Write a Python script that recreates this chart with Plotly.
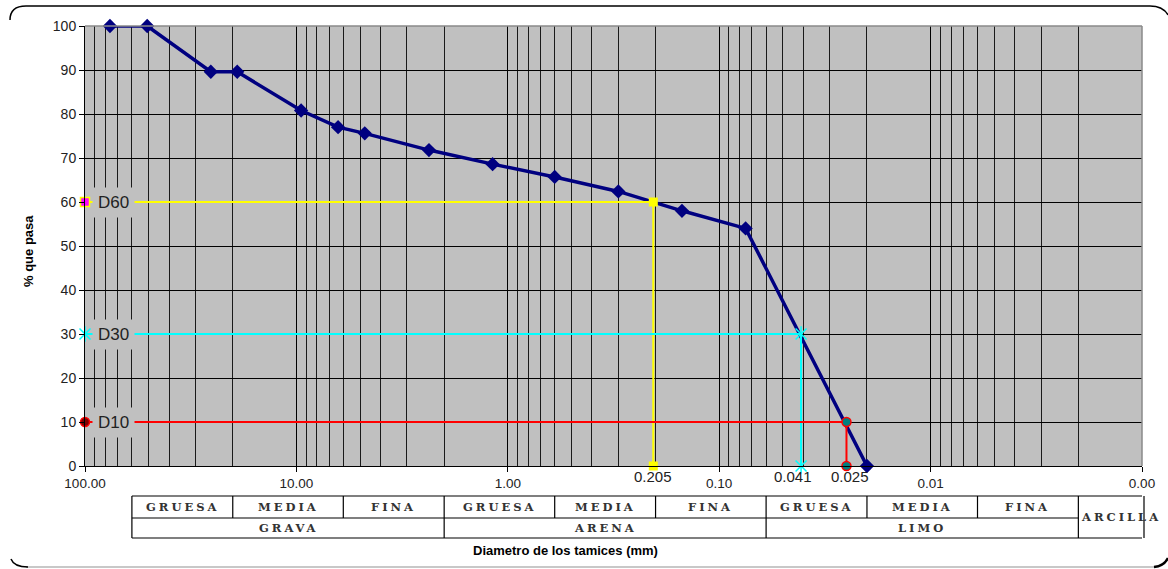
import numpy as np
import plotly.graph_objects as go

# ---------------- data ----------------
diametro = [76.2, 50.8, 25.4, 19.05, 9.5, 6.35, 4.75, 2.36, 1.18, 0.6, 0.3, 0.15, 0.075, 0.02]
pasa = [100, 100, 89.6, 89.6, 80.8, 77.0, 75.6, 71.8, 68.6, 65.7, 62.4, 58.0, 54.0, 0]

d_names = ["D60", "D30", "D10"]
d_pct = [60, 30, 10]
d_diam = [0.205, 0.041, 0.025]

x_max = 100
x_min = 0.001

# soil classification boundaries (mm)
sub_bounds = [60, 20, 6, 2, 0.6, 0.2, 0.06, 0.02, 0.006, 0.002]
sub_labels = ["GRUESA", "MEDIA", "FINA", "GRUESA", "MEDIA", "FINA", "GRUESA", "MEDIA", "FINA"]
main_bounds = [60, 2, 0.06, 0.002]
main_labels = ["GRAVA", "ARENA", "LIMO"]
clay_bounds = [0.002, 0.001]
clay_label = "ARCILLA"

# ---------------- layout geometry ----------------
W, H = 1168, 569
ML, MR, MT, MB = 85, 26, 26, 103
PW, PH = W - ML - MR, H - MT - MB


def px(xp):
    return (xp - ML) / PW


def py(yp):
    return (H - MB - yp) / PH


fig = go.Figure()

fig.add_trace(go.Scatter(
    x=diametro, y=pasa, mode="lines+markers",
    line=dict(color="#000080", width=3.5),
    marker=dict(symbol="diamond", size=11, color="#000080"),
    cliponaxis=False, hoverinfo="x+y"))

# D60
d = d_diam[0]
fig.add_trace(go.Scatter(x=[x_max, d, d], y=[d_pct[0], d_pct[0], 0], mode="lines",
                         line=dict(color="#FFFF00", width=2), cliponaxis=False))
fig.add_trace(go.Scatter(x=[d, d], y=[d_pct[0], 0], mode="markers",
                         marker=dict(symbol="square", size=9, color="#FFFF00"), cliponaxis=False))
fig.add_trace(go.Scatter(x=[x_max], y=[d_pct[0]], mode="markers",
                         marker=dict(symbol="square", size=9, color="#FF00FF",
                                     line=dict(color="#FFFF00", width=1.5)), cliponaxis=False))
# D30
d = d_diam[1]
fig.add_trace(go.Scatter(x=[x_max, d, d], y=[d_pct[1], d_pct[1], 0], mode="lines",
                         line=dict(color="#00FFFF", width=2), cliponaxis=False))
for sym in ["x-thin-open", "line-ns-open"]:
    fig.add_trace(go.Scatter(x=[x_max, d, d], y=[d_pct[1], d_pct[1], 0], mode="markers",
                             marker=dict(symbol=sym, size=11, color="#00FFFF",
                                         line=dict(color="#00FFFF", width=1.5)), cliponaxis=False))
# D10
d = d_diam[2]
fig.add_trace(go.Scatter(x=[x_max, d, d], y=[d_pct[2], d_pct[2], 0], mode="lines",
                         line=dict(color="#FF0000", width=2), cliponaxis=False))
fig.add_trace(go.Scatter(x=[d, d], y=[d_pct[2], 0], mode="markers",
                         marker=dict(symbol="circle", size=9, color="#008080",
                                     line=dict(color="#FF0000", width=1.5)), cliponaxis=False))
fig.add_trace(go.Scatter(x=[x_max], y=[d_pct[2]], mode="markers",
                         marker=dict(symbol="circle", size=9, color="#800000",
                                     line=dict(color="#FF0000", width=1.5)), cliponaxis=False))

annotations = []
for name, pct in zip(d_names, d_pct):
    annotations.append(dict(x=px(113), xref="paper", y=pct, yref="y", text=name,
                            xanchor="center", yanchor="middle",
                            showarrow=False, bgcolor="#C0C0C0", borderpad=5,
                            font=dict(family="Liberation Sans, Arial", size=17, color="#222")))
for dv, sh in zip(d_diam, [0, -8, 4]):
    annotations.append(dict(x=np.log10(dv), xref="x", y=py(477), yref="paper",
                            xanchor="center", yanchor="middle",
                            text=f"{dv:.3f}", showarrow=False, xshift=sh,
                            font=dict(family="Liberation Sans, Arial", size=15, color="#222")))

# axis titles
annotations.append(dict(x=px(28), y=py(251), xref="paper", yref="paper", text="<b>% que pasa</b>",
                        xanchor="center", yanchor="middle",
                        textangle=-90, showarrow=False,
                        font=dict(family="Liberation Sans, Arial", size=13, color="#000")))
annotations.append(dict(x=px(565), y=py(550), xref="paper", yref="paper",
                        xanchor="center", yanchor="middle",
                        text="<b>Diametro de los tamices (mm)</b>", showarrow=False,
                        font=dict(family="Liberation Sans, Arial", size=13, color="#000")))

# classification table (shape x values are data values on the log axis)
shapes = []
t_top, t_mid, t_bot = py(496), py(518), py(538)
tbl_line = dict(color="#000", width=1.2)
shapes.append(dict(type="line", xref="x", yref="paper", x0=sub_bounds[0], x1=clay_bounds[-1],
                   y0=t_top, y1=t_top, line=tbl_line))
shapes.append(dict(type="line", xref="x", yref="paper", x0=sub_bounds[0], x1=clay_bounds[-1],
                   y0=t_bot, y1=t_bot, line=tbl_line))
shapes.append(dict(type="line", xref="x", yref="paper", x0=sub_bounds[0], x1=clay_bounds[0],
                   y0=t_mid, y1=t_mid, line=tbl_line))
for b in sub_bounds:
    full = b in main_bounds
    shapes.append(dict(type="line", xref="x", yref="paper", x0=b, x1=b,
                       y0=t_bot if full else t_mid, y1=t_top, line=tbl_line))
shapes.append(dict(type="line", xref="paper", yref="paper", x0=px(1144), x1=px(1144),
                   y0=t_bot, y1=t_top, line=tbl_line))

tfont = dict(family="DejaVu Serif", size=11.5, color="#333", weight="bold")
for i, lab in enumerate(sub_labels):
    xc = (np.log10(sub_bounds[i]) + np.log10(sub_bounds[i + 1])) / 2
    annotations.append(dict(x=xc, xref="x", y=(t_top + t_mid) / 2, yref="paper",
                            xanchor="center", yanchor="middle",
                            text=f'<span style="letter-spacing:3px">{lab}</span>',
                            showarrow=False, font=tfont))
for i, lab in enumerate(main_labels):
    xc = (np.log10(main_bounds[i]) + np.log10(main_bounds[i + 1])) / 2
    annotations.append(dict(x=xc, xref="x", y=(t_mid + t_bot) / 2, yref="paper",
                            xanchor="center", yanchor="middle",
                            text=f'<span style="letter-spacing:3px">{lab}</span>',
                            showarrow=False, font=tfont))
annotations.append(dict(x=np.log10(clay_bounds[0]), xref="x", xshift=1, xanchor="left",
                        y=(t_top + t_bot) / 2, yref="paper", yanchor="middle",
                        text=f'<span style="letter-spacing:3px">{clay_label}</span>',
                        showarrow=False, font=tfont))

# grey top/right border of plot area
shapes.append(dict(type="line", xref="paper", yref="paper", x0=0, x1=1, y0=1, y1=1,
                   line=dict(color="#8a8a8a", width=1.5)))
shapes.append(dict(type="line", xref="paper", yref="paper", x0=1, x1=1, y0=0, y1=1,
                   line=dict(color="#8a8a8a", width=1.5)))

# outer frame (rounded)
top_path = (f"M {px(10)},{py(20)} Q {px(10)},{py(6)} {px(26)},{py(6)} "
            f"L {px(1150)},{py(6)} Q {px(1163)},{py(6)} {px(1168)},{py(15)}")
shapes.append(dict(type="path", xref="paper", yref="paper", path=top_path,
                   line=dict(color="#000", width=1.5)))
bot_path = f"M {px(26)},{py(567)} L {px(1155)},{py(567)}"
shapes.append(dict(type="path", xref="paper", yref="paper", path=bot_path,
                   line=dict(color="#c8c8c8", width=2)))
bl_path = f"M {px(11)},{py(559)} Q {px(14)},{py(567)} {px(28)},{py(567)}"
shapes.append(dict(type="path", xref="paper", yref="paper", path=bl_path,
                   line=dict(color="#000", width=1.5)))
br_path = f"M {px(1154)},{py(567)} Q {px(1164)},{py(566)} {px(1168)},{py(558)}"
shapes.append(dict(type="path", xref="paper", yref="paper", path=br_path,
                   line=dict(color="#000", width=2.5)))

fig.update_layout(
    width=W, height=H,
    margin=dict(l=ML, r=MR, t=MT, b=MB, pad=0),
    paper_bgcolor="white", plot_bgcolor="#C0C0C0",
    showlegend=False,
    font=dict(family="Liberation Sans, Arial", color="#222"),
    xaxis=dict(type="log", range=[np.log10(x_max), np.log10(x_min)],
               dtick=1, tickformat=".2f",
               showgrid=True, gridcolor="#000", gridwidth=1,
               minor=dict(dtick="D1", showgrid=True, gridcolor="#1a1a1a", gridwidth=1, ticks=""),
               showline=True, linecolor="#000", linewidth=1,
               ticks="outside", ticklen=5, tickcolor="#000",
               tickfont=dict(size=13.5, color="#222"), zeroline=False),
    yaxis=dict(range=[0, 100], dtick=10,
               showgrid=True, gridcolor="#000", gridwidth=1,
               showline=True, linecolor="#000", linewidth=1,
               ticks="outside", ticklen=5, tickcolor="#000",
               tickfont=dict(size=14, color="#222"), zeroline=False),
    annotations=annotations,
    shapes=shapes,
)

fig.write_html("out.html", config={"displayModeBar": False},
               post_script="document.body.style.margin='0';")
